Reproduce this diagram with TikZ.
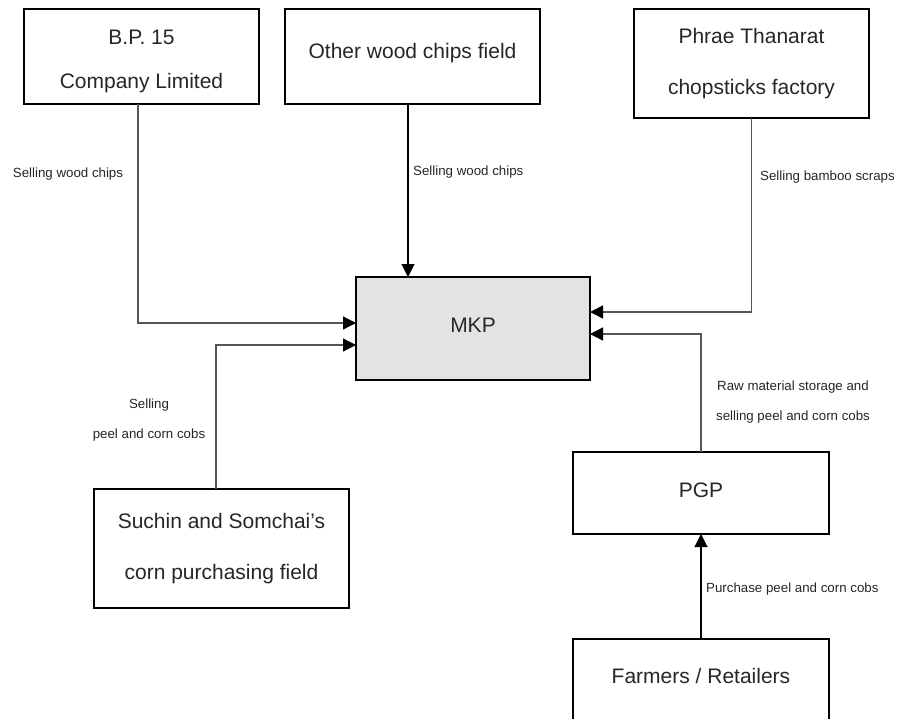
\documentclass[tikz,border=0pt]{standalone}
\usepackage{fontspec}
\setmainfont{Liberation Sans}
\usetikzlibrary{arrows.meta,calc}
\definecolor{txt}{HTML}{262626}
\definecolor{lng}{HTML}{555555}
\definecolor{mkpfill}{HTML}{E3E3E3}
\begin{document}
\begin{tikzpicture}[x=1pt,y=-1pt,
  box/.style={draw=black,line width=2.6pt,rectangle,inner sep=0pt,outer sep=0pt,
    align=center,text=txt,font=\fontsize{21}{24}\selectfont},
  boxtext/.style={text=txt,inner sep=0pt,align=center,font=\fontsize{21}{24}\selectfont},
  lbl/.style={text=txt,inner sep=0pt,align=center,font=\fontsize{13.3}{16}\selectfont},
  conn/.style={draw=lng,line width=1.3pt,-{Triangle[length=13pt,width=13pt,color=black]}},
  connb/.style={draw=black,line width=1.1pt,-{Triangle[length=13pt,width=13pt]}}]
\path[use as bounding box,clip] (0,0) rectangle (900,718);
\node[box,minimum width=235pt,minimum height=95pt] (bp) at (141.5,56.5) {};
\node[boxtext] (bptxt) at (141.5,61) {B.P. 15\\[20pt]Company Limited};
\node[box,minimum width=255pt,minimum height=95pt] (other) at (412.5,56.5) {};
\node[boxtext] (othertxt) at (412.5,53) {Other wood chips field};
\node[box,minimum width=235pt,minimum height=109pt] (phrae) at (751.5,63.5) {Phrae Thanarat\\[27pt]chopsticks factory};
\node[box,fill=mkpfill,minimum width=234pt,minimum height=103pt] (mkp) at (473,328.5) {};
\node[boxtext] (mkptxt) at (473,325) {MKP};
\node[box,minimum width=255pt,minimum height=119pt] (suchin) at (221.5,548.5) {Suchin and Somchai’s\\[27pt]corn purchasing field};
\node[box,minimum width=256pt,minimum height=82pt] (pgp) at (701,493) {};
\node[boxtext] (pgptxt) at (701,490) {PGP};
\node[box,minimum width=256pt,minimum height=120pt] (farmers) at (701,699) {};
\node[boxtext] (farmerstxt) at (701,676) {Farmers / Retailers};
% connectors
\draw[conn] ([xshift=-3.5pt]bp.south) |- ([yshift=5.5pt]mkp.west);
\draw[connb] ([xshift=-4.5pt]other.south) -- ([xshift=-4.5pt]other.south |- mkp.north);
\draw[conn] (phrae.south) |- ([yshift=16.5pt]mkp.east);
\draw[conn] ([xshift=-5.5pt]suchin.north) |- ([yshift=-16.5pt]mkp.west);
\draw[conn] (pgp.north) |- ([yshift=-5.5pt]mkp.east);
\draw[connb] (farmers.north) -- (pgp.south);
% labels
\node[lbl] (l1) at (68,174) {Selling wood chips};
\node[lbl,anchor=west] (l2) at (413,172) {Selling wood chips};
\node[lbl,anchor=west] (l3) at (760,177) {Selling bamboo scraps};
\node[lbl] (l4) at (149,420) {Selling\\[14pt]peel and corn cobs};
\node[lbl] (l5) at (793,402) {Raw material storage and\\[14pt]selling peel and corn cobs};
\node[lbl,anchor=west] (l6) at (706,589) {Purchase peel and corn cobs};
\end{tikzpicture}
\end{document}
